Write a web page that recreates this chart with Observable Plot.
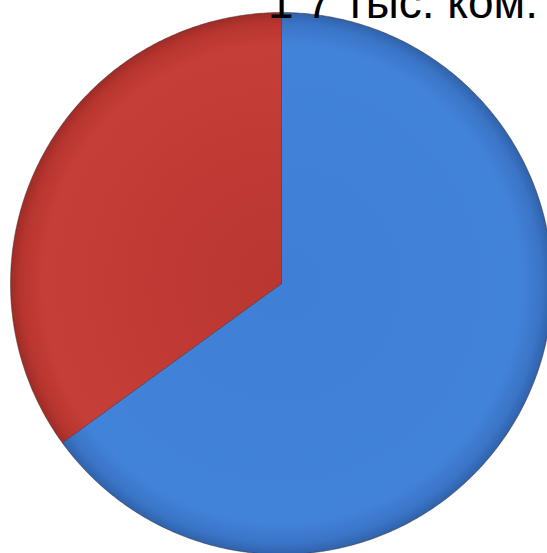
<!DOCTYPE html>
<html>
<head>
<meta charset="utf-8">
<script src="https://cdn.jsdelivr.net/npm/d3@7"></script>
<script src="https://cdn.jsdelivr.net/npm/@observablehq/plot@0.6"></script>
<style>
  html, body { margin: 0; padding: 0; background: #fff; overflow: hidden; }
  #chart svg { display: block; }
</style>
</head>
<body>
<div id="chart"></div>
<script>
const categories = ["Категория 1", "Категория 2"];
const values = [65, 35];
const colors = ["url(#gBlue)", "url(#gRed)"];
const titleText = "1 7 тыс. ком.";

// pie angles (clockwise from 12 o'clock)
const pie = d3.pie().sort(null).value(d => d.value);
const arcs = pie(categories.map((c, i) => ({category: c, value: values[i], color: colors[i]})));
const pts = [];
arcs.forEach(a => {
  pts.push({category: a.data.category, x: 0, y: 0});
  const n = Math.max(2, Math.ceil((a.endAngle - a.startAngle) / 0.01));
  for (let k = 0; k <= n; k++) {
    const t = a.startAngle + (a.endAngle - a.startAngle) * k / n;
    pts.push({category: a.data.category, x: Math.sin(t), y: Math.cos(t)});
  }
  pts.push({category: a.data.category, x: 0, y: 0});
});

const chart = Plot.plot({
  width: 547,
  height: 553,
  marginLeft: 10,
  marginRight: 0,
  marginTop: 12,
  marginBottom: 0,
  x: {domain: [-1, 266 / 271], axis: null},
  y: {domain: [-270 / 271, 1], axis: null},
  style: {overflow: "hidden"},
  marks: [
    ...arcs.map(a => Plot.line(pts.filter(p => p.category === a.data.category), {
      x: "x", y: "y", fill: a.data.color, stroke: "rgba(60,40,40,0.45)", strokeWidth: 1, curve: "linear"
    })),
    Plot.text([titleText], {
      x: () => -0.05, y: () => 0.9815, text: d => d,
      textAnchor: "start", lineAnchor: "bottom",
      fontSize: 46, fontFamily: "Liberation Sans, Arial, sans-serif", fill: "#000"
    })
  ]
});

const svg = d3.select(chart);
const defs = svg.insert("defs", ":first-child");
const gb = defs.append("radialGradient").attr("id", "gBlue").attr("gradientUnits", "userSpaceOnUse")
  .attr("cx", 281).attr("cy", 283).attr("r", 271);
gb.append("stop").attr("offset", "0%").attr("stop-color", "#3f7fd6");
gb.append("stop").attr("offset", "88%").attr("stop-color", "#4283da");
gb.append("stop").attr("offset", "96%").attr("stop-color", "#3a74c6");
gb.append("stop").attr("offset", "100%").attr("stop-color", "#2f62aa");
const gr = defs.append("radialGradient").attr("id", "gRed").attr("gradientUnits", "userSpaceOnUse")
  .attr("cx", 281).attr("cy", 283).attr("r", 271);
gr.append("stop").attr("offset", "0%").attr("stop-color", "#b93631");
gr.append("stop").attr("offset", "88%").attr("stop-color", "#c63e38");
gr.append("stop").attr("offset", "96%").attr("stop-color", "#b8352f");
gr.append("stop").attr("offset", "100%").attr("stop-color", "#9e2c27");

document.getElementById("chart").appendChild(chart);
</script>
</body>
</html>
